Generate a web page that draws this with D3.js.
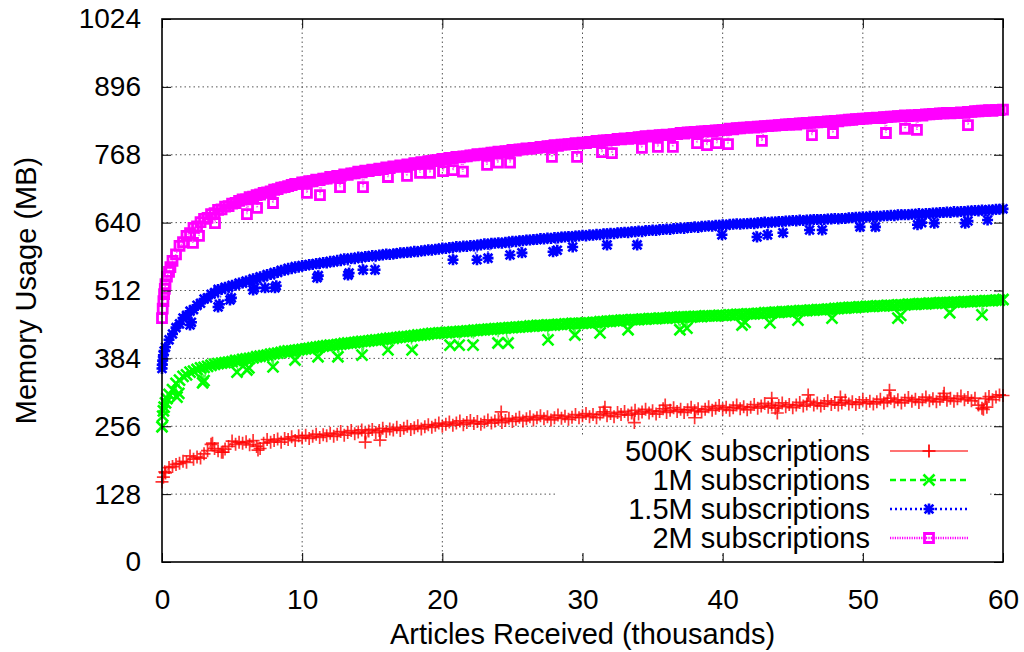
<!DOCTYPE html>
<html>
<head>
<meta charset="utf-8">
<script src="https://cdn.jsdelivr.net/npm/d3@7"></script>
<style>
  body { margin: 0; background: #fff; }
  svg { display: block; }
  text { font-family: "Liberation Sans", Arial, Helvetica, sans-serif; fill: #000; }
</style>
</head>
<body>
<svg id="chart" width="1024" height="652"></svg>
<script>
// Articles received (thousands): one sample every 250 articles, 0 .. 60
const articlesK = d3.range(0, 241).map(i => i / 4);

// Memory usage (MB) at each sample, 500K subscriptions
const mem500K = [
  151, 168, 178, 180, 184, 186, 190, 188, 200, 194, 198, 196,
  204, 210, 222, 214, 210, 207, 213, 218, 228, 222, 226, 224,
  227, 221, 229, 218, 214, 224, 231, 226, 229, 232, 226, 233,
  231, 236, 229, 238, 234, 239, 233, 237, 241, 235, 240, 238,
  243, 237, 241, 246, 239, 244, 248, 242, 245, 249, 243, 247,
  250, 244, 248, 252, 246, 251, 249, 254, 248, 252, 256, 250,
  253, 257, 251, 255, 259, 254, 258, 262, 256, 260, 264, 258,
  262, 266, 259, 263, 267, 261, 265, 260, 264, 268, 262, 266,
  269, 263, 267, 271, 265, 269, 273, 266, 270, 274, 268, 272,
  276, 270, 274, 268, 272, 277, 271, 275, 269, 273, 278, 272,
  276, 280, 274, 278, 272, 279, 283, 276, 280, 274, 282, 278,
  284, 277, 281, 286, 279, 283, 288, 281, 285, 279, 284, 289,
  282, 286, 291, 284, 288, 282, 287, 292, 285, 289, 283, 288,
  293, 286, 290, 295, 288, 292, 286, 291, 296, 289, 293, 287,
  292, 297, 290, 294, 299, 292, 296, 290, 295, 300, 293, 297,
  291, 296, 301, 294, 298, 303, 296, 300, 294, 299, 304, 297,
  301, 296, 300, 305, 298, 302, 297, 301, 306, 299, 303, 298,
  302, 307, 300, 304, 309, 302, 306, 300, 305, 310, 303, 307,
  301, 306, 311, 304, 308, 302, 307, 312, 305, 309, 303, 308,
  313, 306, 310, 304, 309, 296, 290, 308, 312, 306, 311, 315,
  314
];

// 1M subscriptions
const mem1M = [
  255, 300, 316, 325, 337, 343, 350, 353, 358, 360, 363, 366,
  367, 369, 371, 373, 374, 375, 376, 377, 378, 380, 380, 382,
  383, 384, 385, 387, 388, 389, 390, 392, 393, 394, 395, 397,
  398, 398, 399, 400, 401, 402, 403, 404, 405, 406, 407, 408,
  409, 409, 410, 411, 412, 413, 413, 414, 415, 416, 416, 417,
  418, 419, 419, 420, 421, 422, 422, 423, 424, 425, 425, 426,
  427, 428, 428, 429, 430, 431, 431, 432, 432, 433, 433, 434,
  434, 435, 435, 436, 436, 437, 437, 438, 438, 439, 439, 440,
  440, 441, 441, 442, 442, 443, 443, 444, 444, 445, 445, 446,
  446, 446, 447, 447, 447, 448, 448, 449, 449, 450, 450, 450,
  450, 451, 451, 452, 452, 453, 453, 454, 454, 455, 455, 456,
  456, 456, 457, 457, 457, 458, 458, 459, 459, 459, 460, 460,
  460, 461, 461, 461, 462, 462, 462, 462, 463, 463, 463, 464,
  464, 464, 464, 465, 465, 465, 466, 466, 467, 467, 467, 468,
  468, 468, 469, 469, 470, 470, 470, 471, 471, 472, 472, 472,
  473, 473, 474, 474, 474, 475, 475, 476, 476, 476, 477, 477,
  478, 478, 479, 479, 480, 480, 480, 481, 481, 482, 482, 482,
  483, 483, 483, 484, 484, 484, 485, 485, 485, 486, 486, 486,
  487, 487, 487, 488, 488, 488, 489, 489, 489, 489, 490, 490,
  490, 491, 491, 491, 492, 492, 492, 493, 493, 493, 494, 494,
  495
];

// 1.5M subscriptions
const mem1_5M = [
  365, 405, 419, 430, 442, 449, 460, 465, 473, 476, 484, 488,
  496, 498, 505, 508, 514, 514, 518, 518, 522, 522, 526, 526,
  530, 530, 534, 534, 538, 538, 542, 542, 546, 546, 550, 550,
  554, 553, 557, 556, 559, 559, 561, 561, 563, 563, 565, 564,
  567, 566, 569, 568, 572, 571, 573, 572, 575, 574, 576, 576,
  578, 577, 579, 579, 581, 580, 581, 582, 583, 583, 584, 584,
  586, 585, 587, 587, 589, 588, 590, 590, 592, 591, 593, 593,
  595, 594, 596, 595, 597, 596, 598, 598, 600, 599, 601, 601,
  602, 601, 603, 603, 605, 604, 606, 606, 607, 607, 608, 608,
  610, 609, 611, 610, 612, 611, 613, 613, 614, 613, 615, 615,
  616, 615, 617, 616, 618, 617, 619, 619, 620, 619, 621, 621,
  622, 621, 623, 623, 624, 623, 625, 625, 626, 625, 627, 627,
  628, 627, 629, 629, 630, 629, 631, 631, 632, 631, 633, 633,
  634, 633, 635, 635, 636, 635, 637, 637, 638, 637, 638, 638,
  639, 638, 640, 640, 641, 640, 641, 641, 642, 642, 643, 643,
  644, 643, 645, 644, 645, 645, 646, 646, 646, 646, 647, 647,
  648, 647, 648, 648, 649, 649, 650, 650, 651, 650, 652, 651,
  652, 652, 653, 653, 654, 653, 655, 655, 655, 655, 656, 656,
  657, 656, 657, 657, 658, 658, 659, 659, 660, 659, 661, 660,
  661, 661, 662, 662, 663, 662, 664, 663, 664, 664, 665, 665,
  666
];

// 2M subscriptions
const mem2M = [
  460, 524, 547, 568, 580, 596, 603, 615, 620, 630, 633, 641,
  647, 649, 656, 658, 664, 665, 670, 671, 676, 677, 681, 684,
  684, 688, 689, 692, 693, 696, 697, 699, 702, 703, 706, 707,
  709, 711, 713, 713, 716, 716, 718, 718, 721, 720, 723, 723,
  726, 725, 728, 728, 731, 730, 733, 733, 736, 735, 738, 737,
  740, 739, 742, 741, 744, 743, 746, 745, 748, 747, 750, 749,
  752, 751, 754, 753, 756, 756, 758, 758, 760, 759, 762, 761,
  764, 763, 765, 765, 767, 767, 769, 768, 770, 770, 772, 772,
  774, 773, 775, 775, 777, 776, 778, 778, 780, 779, 781, 781,
  783, 782, 784, 784, 786, 785, 787, 787, 788, 788, 790, 789,
  791, 790, 792, 792, 794, 793, 795, 795, 796, 796, 798, 797,
  799, 798, 800, 799, 801, 801, 803, 802, 804, 803, 805, 805,
  806, 805, 807, 807, 809, 808, 810, 810, 811, 810, 812, 812,
  813, 812, 814, 814, 815, 815, 817, 816, 818, 818, 819, 819,
  820, 819, 821, 821, 822, 822, 823, 823, 824, 824, 825, 825,
  826, 825, 827, 827, 828, 828, 829, 829, 830, 830, 831, 831,
  832, 831, 833, 833, 834, 834, 835, 835, 836, 836, 837, 837,
  838, 837, 839, 839, 840, 840, 841, 841, 842, 841, 842, 842,
  843, 842, 844, 844, 845, 845, 846, 846, 847, 846, 847, 847,
  848, 847, 849, 849, 850, 850, 851, 851, 852, 851, 852, 852,
  853
];

// Off-grid samples: start-up readings and momentary spikes / dips [thousands, MB]
const extra500K = [
  [0.1, 160], [0.2, 170], [3.6, 224], [4.35, 207], [6.85, 211], [14.5, 226], [15.55, 230],
  [24.2, 283], [31.6, 292], [33.7, 263], [35.9, 296], [38.0, 272], [43.5, 309],
  [43.9, 281], [46.1, 315], [48.4, 311], [51.9, 324], [55.8, 318], [58.6, 288], [58.85, 292]
];
const extra1M = [
  [0.05, 275], [0.1, 285], [0.15, 292], [0.35, 308], [1.07, 311], [1.2, 318], [2.9, 338],
  [3.0, 342], [5.35, 358], [6.06, 362], [6.2, 366], [7.92, 368], [9.49, 381], [11.13, 387],
  [12.55, 387], [14.27, 390], [16.12, 400], [17.84, 400], [20.55, 409], [21.2, 409],
  [22.19, 409], [23.97, 413], [24.69, 413], [27.54, 419], [29.46, 428], [31.25, 432],
  [33.25, 438], [36.95, 438], [37.45, 441], [41.38, 447], [41.6, 452], [43.38, 451],
  [45.37, 456], [47.8, 460], [52.5, 460], [52.7, 465], [56.2, 470], [58.5, 466]
];
const extra1_5M = [
  [0.02, 372], [0.05, 380], [0.1, 390], [0.15, 398], [2.0, 447], [2.1, 452], [4.0, 481],
  [4.1, 486], [4.85, 494], [4.95, 498], [6.5, 513], [6.6, 517], [7.35, 517], [8.06, 517],
  [8.15, 521], [11.06, 536], [11.15, 540], [13.27, 541], [13.35, 545], [14.34, 551],
  [15.2, 551], [20.76, 570], [22.47, 570], [23.26, 573], [24.83, 579], [25.68, 583],
  [27.9, 585], [28.2, 588], [29.3, 594], [31.75, 598], [33.9, 598], [39.95, 617],
  [42.45, 613], [43.2, 617], [44.3, 621], [46.2, 626], [47.1, 626], [49.8, 632],
  [50.9, 632], [53.9, 636], [54.2, 640], [55.1, 639], [57.3, 639], [57.5, 643], [58.9, 645]
];
const extra2M = [
  [0.05, 478], [0.1, 492], [0.15, 505], [0.2, 515], [0.35, 538], [0.6, 556],
  [2.21, 602], [2.64, 615], [3.78, 639], [6.06, 656], [6.78, 668], [7.92, 677],
  [10.34, 696], [11.27, 692], [12.7, 707], [14.34, 707], [16.12, 726], [17.48, 728],
  [18.41, 734], [19.12, 734], [20.05, 737], [20.76, 739], [21.47, 736], [23.19, 749],
  [23.97, 753], [24.83, 753], [27.82, 764], [29.61, 764], [31.39, 773], [32.1, 771],
  [34.24, 781], [35.38, 783], [36.45, 783], [38.17, 790], [38.88, 786], [39.59, 790],
  [40.38, 788], [42.8, 794], [46.37, 805], [47.87, 809], [51.65, 809], [53.01, 817],
  [53.86, 815], [57.5, 824]
];

const seriesNames = ["500K subscriptions", "1M subscriptions", "1.5M subscriptions", "2M subscriptions"];
const xTicks = [0, 10, 20, 30, 40, 50, 60];
const yTicks = [0, 128, 256, 384, 512, 640, 768, 896, 1024];
const xTitle = "Articles Received (thousands)";
const yTitle = "Memory Usage (MB)";

// ---- styling for each series ----
const styles = [
  { values: mem500K, extra: extra500K, color: "#ff0000", marker: "plus",   dash: null,      lw: 1.2, opacity: 0.8 },
  { values: mem1M,   extra: extra1M,   color: "#00ff00", marker: "cross",  dash: "6,4",     lw: 1.5, opacity: 1 },
  { values: mem1_5M, extra: extra1_5M, color: "#0000ff", marker: "star",   dash: "2,3",     lw: 1.5, opacity: 1 },
  { values: mem2M,   extra: extra2M,   color: "#ff00ff", marker: "square", dash: "1.2,1.2", lw: 1.5, opacity: 1 }
];

const markerPath = {
  plus:   s => `M${-s},0H${s}M0,${-s}V${s}`,
  cross:  s => `M${-s},${-s}L${s},${s}M${-s},${s}L${s},${-s}`,
  star:   s => `M${-s},0H${s}M0,${-s}V${s}M${-s*0.8},${-s*0.8}L${s*0.8},${s*0.8}M${-s*0.8},${s*0.8}L${s*0.8},${-s*0.8}`,
  square: s => `M${-s},${-s}H${s}V${s}H${-s}Z`
};
const markerStroke = { plus: 1.7, cross: 2.6, star: 2.6, square: 2.8 };
const markerSize = { plus: 6.5, cross: 5.5, star: 5.5, square: 4.5 };

// ---- frame ----
const L = 162, R = 1003, T = 19, B = 562;
const x = d3.scaleLinear().domain([0, 60]).range([L, R]);
const y = d3.scaleLinear().domain([0, 1024]).range([B, T]);
const svg = d3.select("#chart");

// dotted grid
const grid = svg.append("g").attr("stroke", "#555").attr("stroke-width", 1).attr("stroke-dasharray", "1.5,3");
grid.selectAll("line.gx").data(xTicks.slice(1, -1)).join("line").attr("class", "gx")
  .attr("x1", d => x(d)).attr("x2", d => x(d)).attr("y1", T).attr("y2", B);
grid.selectAll("line.gy").data(yTicks.slice(1, -1)).join("line").attr("class", "gy")
  .attr("x1", L).attr("x2", R).attr("y1", d => y(d)).attr("y2", d => y(d));

// series: connecting line + point markers
const line = d3.line().x(d => x(d[0])).y(d => y(d[1]));
const plot = svg.append("g");
styles.forEach(st => {
  const pts = articlesK.map((a, i) => [a, st.values[i]]).concat(st.extra).sort((a, b) => a[0] - b[0]);
  const g = plot.append("g");
  g.append("path").datum(pts).attr("d", line).attr("fill", "none")
    .attr("stroke", st.color).attr("stroke-width", st.lw)
    .attr("stroke-dasharray", st.dash).attr("stroke-opacity", st.opacity * 0.7);
  g.selectAll("path.pt").data(pts).join("path").attr("class", "pt")
    .attr("transform", d => `translate(${x(d[0])},${y(d[1])})`)
    .attr("d", markerPath[st.marker](markerSize[st.marker]))
    .attr("fill", "none").attr("stroke", st.color)
    .attr("stroke-width", markerStroke[st.marker]).attr("stroke-opacity", st.opacity);
});

// legend with an opaque background
const legend = svg.append("g");
legend.append("rect").attr("x", 555).attr("y", 435).attr("width", 433).attr("height", 118).attr("fill", "#fff");
const rowY = i => 451 + i * 29;
styles.forEach((st, i) => {
  legend.append("text").attr("x", 870).attr("y", rowY(i)).attr("dy", "0.35em")
    .attr("text-anchor", "end").attr("font-size", 29).text(seriesNames[i]);
  legend.append("line").attr("x1", 890).attr("x2", 968).attr("y1", rowY(i)).attr("y2", rowY(i))
    .attr("stroke", st.color).attr("stroke-width", st.marker === "plus" ? 2 : 2.5)
    .attr("stroke-dasharray", st.dash).attr("stroke-opacity", st.marker === "plus" ? 0.55 : 1);
  legend.append("path").attr("transform", `translate(929,${rowY(i)})`)
    .attr("d", markerPath[st.marker](markerSize[st.marker]))
    .attr("fill", "none").attr("stroke", st.color).attr("stroke-width", markerStroke[st.marker]);
});

// axes: inward ticks on all four sides, labels bottom and left
function styleAxis(g) {
  g.select(".domain").remove();
  g.selectAll(".tick line").attr("stroke", "#000").attr("stroke-width", 1);
  g.selectAll("text").attr("font-size", 28).attr("font-family", '"Liberation Sans", Arial, sans-serif');
}
svg.append("g").attr("transform", `translate(0,${B})`)
  .call(d3.axisBottom(x).tickValues(xTicks).tickFormat(d3.format("d")).tickSize(-9).tickPadding(27)).call(styleAxis);
svg.append("g").attr("transform", `translate(0,${T})`)
  .call(d3.axisTop(x).tickValues(xTicks).tickSize(-9).tickFormat("")).call(styleAxis);
svg.append("g").attr("transform", `translate(${L},0)`)
  .call(d3.axisLeft(y).tickValues(yTicks).tickFormat(d3.format("d")).tickSize(-9).tickPadding(21)).call(styleAxis);
svg.append("g").attr("transform", `translate(${R},0)`)
  .call(d3.axisRight(y).tickValues(yTicks).tickSize(-9).tickFormat("")).call(styleAxis);

svg.append("rect").attr("x", L).attr("y", T).attr("width", R - L).attr("height", B - T)
  .attr("fill", "none").attr("stroke", "#000").attr("stroke-width", 1.6);

// axis titles
svg.append("text").attr("x", (L + R) / 2).attr("y", 644).attr("text-anchor", "middle")
  .attr("font-size", 29).text(xTitle);
svg.append("text").attr("transform", `translate(36,${(T + B) / 2}) rotate(-90)`)
  .attr("text-anchor", "middle").attr("font-size", 29).text(yTitle);
</script>
</body>
</html>
